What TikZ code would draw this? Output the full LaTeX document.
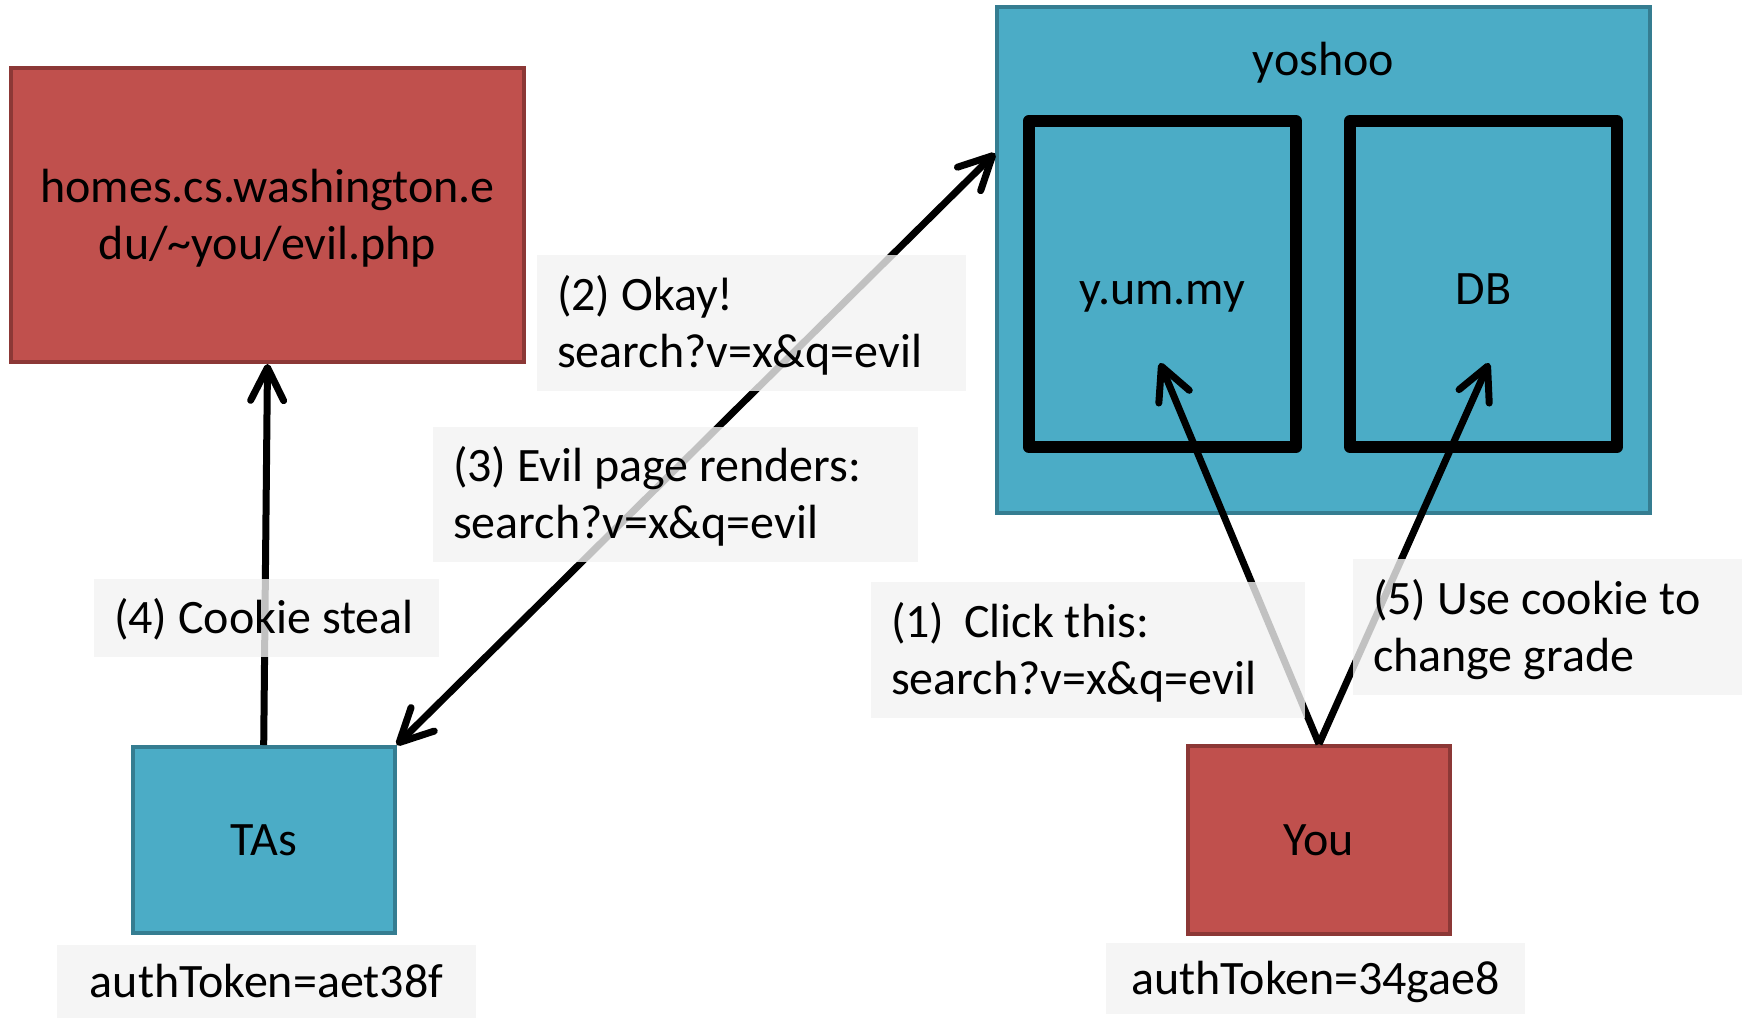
\documentclass[tikz,border=0pt]{standalone}
\usepackage{fontspec}
\setmainfont{Carlito}
\usetikzlibrary{arrows.meta}
\definecolor{redfill}{HTML}{C0504D}
\definecolor{reddraw}{HTML}{8C3836}
\definecolor{bluefill}{HTML}{4BACC6}
\definecolor{bluedraw}{HTML}{357D91}
\definecolor{lblfill}{HTML}{F2F2F2}
\begin{document}
\begin{tikzpicture}[x=1pt,y=-1pt,
  txt/.style={font=\fontsize{48pt}{57pt}\selectfont},
  redbox/.style={draw=reddraw, fill=redfill, line width=4pt, inner sep=0pt, txt},
  bluebox/.style={draw=bluedraw, fill=bluefill, line width=4pt, inner sep=0pt, txt},
  innerbox/.style={draw=black, line width=12pt, line join=round, inner sep=0pt, txt, text height=40pt, text depth=0pt},
  oneline/.style={text height=31pt, text depth=0pt},
  twoline/.style={text height=31pt, text depth=57pt},
  lbl/.style={fill=lblfill, fill opacity=0.8, text opacity=1, inner sep=0pt, txt},
  conn/.style={line width=7pt, draw=black},
  >={Straight Barb[length=33pt,width=33pt,round]}
]
\useasboundingbox (0,0) rectangle (1744,1020);

% boxes
\node[redbox, minimum width=513pt, minimum height=294pt, align=center, text height=88pt, text depth=0pt] (red) at (267.5,215)
  {homes.cs.washington.e\\du/\textasciitilde you/evil.php};
\node[bluebox, minimum width=653pt, minimum height=506pt] (yoshoo) at (1323.5,260) {};
\node[txt, anchor=base, inner sep=0pt] (yoshootitle) at (1323.5,75) {yoshoo};
\node[innerbox, minimum width=267pt, minimum height=326pt] (ymy) at (1162.3,284) {y.um.my};
\node[innerbox, minimum width=267pt, minimum height=326pt] (db) at (1483.5,284) {DB};
\node[bluebox, minimum width=262pt, minimum height=186pt, oneline] (tas) at (263.7,840) {TAs};
\node[redbox, minimum width=262pt, minimum height=188pt, oneline] (you) at (1319,840) {You};

% connectors
\coordinate (ymytip) at (1160,363);
\coordinate (dbtip) at (1489,363);
\draw[conn,->] (tas.north) -- (red.south);
\draw[conn,<->] (tas.north east) -- (yoshoo.162.2);
\draw[conn,->] (you.north) -- (ymytip);
\draw[conn,->] (you.north) -- (dbtip);

% labels
\node[lbl, minimum width=345pt, minimum height=78pt, text width=305pt, align=flush left, oneline] (l4) at (266.5,618) {\mbox{(4) Cookie steal}};
\node[lbl, minimum width=419pt, minimum height=73pt, align=center, oneline] (tok1) at (266.5,981.5) {authToken=aet38f};
\node[lbl, minimum width=419pt, minimum height=71pt, align=center, oneline] (tok2) at (1315.5,978.5) {authToken=34gae8};
\node[lbl, minimum width=429pt, minimum height=136pt, text width=389pt, align=flush left, twoline] (l2) at (751.5,323)
  {(2) Okay!\\search?v=x\&q=evil};
\node[lbl, minimum width=485pt, minimum height=135pt, text width=445pt, align=flush left, twoline] (l3) at (675.5,494.5)
  {(3) Evil page renders:\\search?v=x\&q=evil};
\node[lbl, minimum width=434pt, minimum height=136pt, text width=394pt, align=flush left, twoline] (l1) at (1088,650)
  {(1)\hspace{20pt}Click this:\\search?v=x\&q=evil};
\node[lbl, minimum width=389pt, minimum height=135.5pt, text width=349pt, align=flush left, twoline] (l5) at (1547.5,627)
  {(5) Use cookie to\\change grade};
\end{tikzpicture}
\end{document}
